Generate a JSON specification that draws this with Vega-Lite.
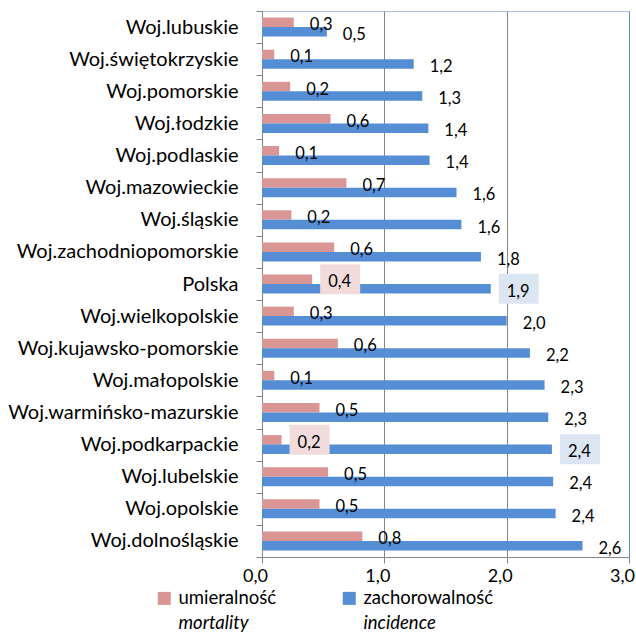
{
  "$schema": "https://vega.github.io/schema/vega-lite/v6.json",
  "width": 367,
  "height": 546,
  "autosize": {"type": "none"},
  "padding": {"left": 262, "top": 11, "right": 7, "bottom": 78},
  "background": "white",
  "config": {
    "locale": {"number": {"decimal": ",", "thousands": " ", "grouping": [3], "currency": ["", " zł"]}},
    "font": "Lato",
    "view": {"stroke": "#a9c1e6", "strokeWidth": 1}
  },
  "data": {
    "values": [
      {"region": "Woj.lubuskie", "series": "umieralność", "value": 0.26},
      {"region": "Woj.lubuskie", "series": "zachorowalność", "value": 0.53},
      {"region": "Woj.świętokrzyskie", "series": "umieralność", "value": 0.10},
      {"region": "Woj.świętokrzyskie", "series": "zachorowalność", "value": 1.24},
      {"region": "Woj.pomorskie", "series": "umieralność", "value": 0.23},
      {"region": "Woj.pomorskie", "series": "zachorowalność", "value": 1.31},
      {"region": "Woj.łodzkie", "series": "umieralność", "value": 0.56},
      {"region": "Woj.łodzkie", "series": "zachorowalność", "value": 1.36},
      {"region": "Woj.podlaskie", "series": "umieralność", "value": 0.14},
      {"region": "Woj.podlaskie", "series": "zachorowalność", "value": 1.37},
      {"region": "Woj.mazowieckie", "series": "umieralność", "value": 0.69},
      {"region": "Woj.mazowieckie", "series": "zachorowalność", "value": 1.59},
      {"region": "Woj.śląskie", "series": "umieralność", "value": 0.24},
      {"region": "Woj.śląskie", "series": "zachorowalność", "value": 1.63},
      {"region": "Woj.zachodniopomorskie", "series": "umieralność", "value": 0.59},
      {"region": "Woj.zachodniopomorskie", "series": "zachorowalność", "value": 1.79},
      {"region": "Polska", "series": "umieralność", "value": 0.41},
      {"region": "Polska", "series": "zachorowalność", "value": 1.87},
      {"region": "Woj.wielkopolskie", "series": "umieralność", "value": 0.26},
      {"region": "Woj.wielkopolskie", "series": "zachorowalność", "value": 2.00},
      {"region": "Woj.kujawsko-pomorskie", "series": "umieralność", "value": 0.62},
      {"region": "Woj.kujawsko-pomorskie", "series": "zachorowalność", "value": 2.19},
      {"region": "Woj.małopolskie", "series": "umieralność", "value": 0.10},
      {"region": "Woj.małopolskie", "series": "zachorowalność", "value": 2.31},
      {"region": "Woj.warmińsko-mazurskie", "series": "umieralność", "value": 0.47},
      {"region": "Woj.warmińsko-mazurskie", "series": "zachorowalność", "value": 2.34},
      {"region": "Woj.podkarpackie", "series": "umieralność", "value": 0.16},
      {"region": "Woj.podkarpackie", "series": "zachorowalność", "value": 2.37},
      {"region": "Woj.lubelskie", "series": "umieralność", "value": 0.54},
      {"region": "Woj.lubelskie", "series": "zachorowalność", "value": 2.38},
      {"region": "Woj.opolskie", "series": "umieralność", "value": 0.47},
      {"region": "Woj.opolskie", "series": "zachorowalność", "value": 2.40},
      {"region": "Woj.dolnośląskie", "series": "umieralność", "value": 0.82},
      {"region": "Woj.dolnośląskie", "series": "zachorowalność", "value": 2.62}
    ]
  },
  "encoding": {
    "y": {
      "field": "region", "type": "nominal", "sort": null, "title": null,
      "scale": {"paddingInner": 0, "paddingOuter": 0},
      "axis": {
        "tickBand": "extent", "tickSize": 6, "tickColor": "#868686",
        "domainColor": "#868686", "labelPadding": 18, "labelFontSize": 20,
        "labelColor": "#000000", "labelFont": "Lato", "labelLimit": 300
      }
    },
    "yOffset": {
      "field": "series", "type": "nominal",
      "scale": {"domain": ["umieralność", "zachorowalność"], "paddingInner": 0, "paddingOuter": 0.69}
    },
    "x": {
      "field": "value", "type": "quantitative", "title": null,
      "scale": {"domain": [0, 3], "nice": false},
      "axis": {
        "values": [0, 1, 2, 3], "format": ".1f", "tickSize": 6,
        "tickColor": "#868686", "domainColor": "#868686",
        "gridColor": {"condition": {"test": "datum.value == 3", "value": "#558ed5"}, "value": "#868686"},
        "gridOpacity": 1, "labelFontSize": 18, "labelColor": "#000000",
        "labelPadding": 4, "labelFlush": false, "labelOffset": -7
      }
    }
  },
  "layer": [
    {
      "mark": {"type": "bar"},
      "encoding": {
        "color": {
          "field": "series", "type": "nominal",
          "scale": {
            "domain": ["umieralność", "zachorowalność", "mortality", "incidence"],
            "range": ["#d99694", "#558ed5", "transparent", "transparent"]
          },
          "legend": {
            "title": null, "orient": "none", "legendX": -107, "legendY": 578,
            "direction": "horizontal", "columns": 2, "columnPadding": 63,
            "rowPadding": 6, "symbolType": "square", "symbolSize": 169,
            "symbolStrokeWidth": 0, "labelFontSize": 18.5, "labelOffset": 5,
            "labelColor": "#000000", "labelFont": "Lato", "labelLimit": 300,
            "encode": {
              "labels": {
                "update": {
                  "fontStyle": {"signal": "datum.value == 'mortality' || datum.value == 'incidence' ? 'italic' : 'normal'"}
                }
              }
            }
          }
        }
      }
    },
    {
      "transform": [{"filter": "datum.region == 'Polska' || datum.region == 'Woj.podkarpackie'"}],
      "mark": {"type": "point", "filled": true, "opacity": 1, "shape": "M-1,-0.75H1V0.75H-1Z", "size": 1600, "xOffset": 28, "strokeWidth": 0},
      "encoding": {
        "fill": {
          "field": "series", "type": "nominal",
          "scale": {"domain": ["umieralność", "zachorowalność"], "range": ["#f2dcdb", "#dce6f2"]},
          "legend": null
        }
      }
    },
    {
      "mark": {"type": "text", "align": "left", "baseline": "middle", "dx": 16, "dy": 3, "fontSize": 16.5, "font": "Lato", "color": "#000000"},
      "encoding": {
        "text": {"field": "value", "type": "quantitative", "format": ".1f"}
      }
    }
  ]
}
